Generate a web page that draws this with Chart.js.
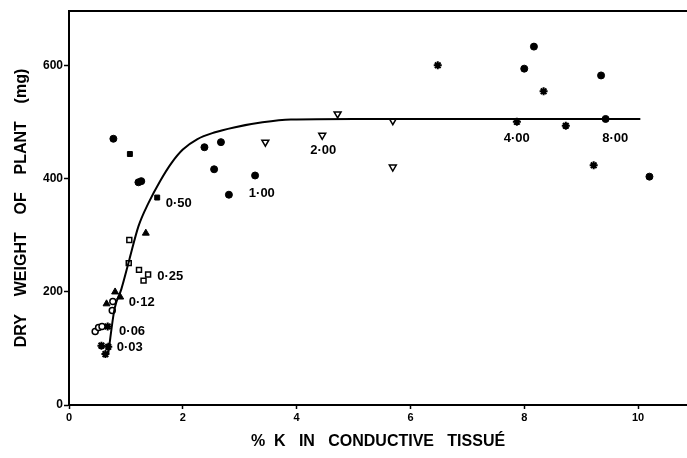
<!DOCTYPE html>
<html>
<head>
<meta charset="utf-8">
<script src="https://cdn.jsdelivr.net/npm/chart.js@4"></script>
<style>body{margin:0;background:#fff}</style>
</head>
<body>
<canvas id="chart" width="687" height="458"></canvas>
<script>
// values: [% K, dry weight mg]
const filledCircles = [[0.78,471],[1.22,394],[1.27,396],[2.38,456],[2.55,417],[2.67,465],[2.81,372],[3.27,406],[8.0,595],[8.17,634],[9.35,583],[9.43,506],[10.2,404]];
const filledSquares = [[1.07,444],[1.55,367]];
const filledTriangles = [[0.66,179],[0.81,200],[0.90,191],[1.35,304]];
const openSquares = [[1.05,251],[1.06,292],[1.23,239],[1.31,220],[1.39,231]];
const openCircles = [[0.46,130],[0.52,137],[0.58,139],[0.76,167],[0.77,183]];
const stars = [[0.57,105],[0.64,90],[0.68,139],[0.69,103],[6.48,601],[7.87,501],[8.34,555],[8.73,494],[9.22,424]];
const openInvTriangles = [[3.45,465],[4.45,477],[4.72,515],[5.69,421],[5.69,503]];
const curve = [[0.69,91],[0.80,170],[0.92,205],[1.06,257],[1.22,316],[1.40,358],[1.6,396],[1.8,428],[2.0,452],[2.25,470],[2.55,482],[2.9,491],[3.4,500],[3.9,505],[5,506],[7,506],[10.04,506]];

const doseLabels = ["0·03","0·06","0·12","0·25","0·50","1·00","2·00","4·00","8·00"];
const doseLabelX = [0.84,0.88,1.05,1.55,1.70,3.16,4.24,7.64,9.37];
const doseLabelY = [101,131,182,227,356,375,450,471,471];

const xTicks = [0, 2, 4, 6, 8, 10];
const yTicks = [0, 200, 400, 600];

const pts = arr => arr.map(p => ({x: p[0], y: p[1]}));

const labelsPlugin = {
  id: "labels",
  afterDraw(chart) {
    const ctx = chart.ctx;
    const xs = chart.scales.x, ys = chart.scales.y;
    const a = chart.chartArea;
    ctx.save();
    // top edge of the frame
    ctx.strokeStyle = "#000";
    ctx.lineWidth = 2;
    ctx.beginPath();
    ctx.moveTo(a.left - 1, a.top);
    ctx.lineTo(a.right, a.top);
    ctx.stroke();
    ctx.fillStyle = "#000";
    ctx.font = "bold 13px 'Liberation Sans', Arial, sans-serif";
    ctx.textAlign = "left";
    ctx.textBaseline = "middle";
    doseLabels.forEach((t, i) => {
      ctx.fillText(t, xs.getPixelForValue(doseLabelX[i]), ys.getPixelForValue(doseLabelY[i]));
    });
    ctx.restore();
  }
};

const black = "#000";
const fam = "'Liberation Sans', Arial, sans-serif";
const titleFont = {family: fam, size: 16, weight: "bold"};

new Chart(document.getElementById("chart"), {
  type: "scatter",
  data: {
    datasets: [
      {data: pts(curve), showLine: true, borderColor: black, borderWidth: 2, pointRadius: 0, tension: 0.4, cubicInterpolationMode: "monotone"},
      {data: pts(filledCircles), pointStyle: "circle", pointRadius: 3.5, backgroundColor: black, borderColor: black},
      {data: pts(filledSquares), pointStyle: "rect", pointRadius: 3.5, backgroundColor: black, borderColor: black},
      {data: pts(filledTriangles), pointStyle: "triangle", pointRadius: 4, backgroundColor: black, borderColor: black},
      {data: pts(openSquares), pointStyle: "rect", pointRadius: 3.5, backgroundColor: "#fff", borderColor: black, borderWidth: 1.5},
      {data: pts(openCircles), pointStyle: "circle", pointRadius: 3, backgroundColor: "#fff", borderColor: black, borderWidth: 1.5},
      {data: pts(stars), pointStyle: "star", pointRadius: 4, backgroundColor: black, borderColor: black, borderWidth: 2},
      {data: pts(openInvTriangles), pointStyle: "triangle", rotation: 180, pointRadius: 4, backgroundColor: "#fff", borderColor: black, borderWidth: 1.5}
    ]
  },
  options: {
    responsive: false,
    animation: false,
    layout: {autoPadding: false, padding: {top: 11, right: 0, left: 0, bottom: 0}},
    plugins: {legend: {display: false}, tooltip: {enabled: false}},
    scales: {
      x: {
        type: "linear", min: 0, max: 10.86,
        afterBuildTicks: s => { s.ticks = xTicks.map(v => ({value: v})); },
        afterFit: s => { s.height = 53; s.paddingLeft = 0; s.paddingRight = 0; },
        ticks: {font: {family: fam, size: 11, weight: "bold"}, color: black, padding: 2},
        grid: {drawOnChartArea: false, color: black, tickLength: 4, tickWidth: 1.5},
        border: {color: black, width: 2},
        title: {display: true, text: "%  K   IN   CONDUCTIVE   TISSUÉ", font: titleFont, color: black, padding: {top: 0, bottom: 7}}
      },
      y: {
        min: 0, max: 697,
        afterBuildTicks: s => { s.ticks = yTicks.map(v => ({value: v})); },
        afterFit: s => { s.width = 69; },
        ticks: {font: {family: fam, size: 12, weight: "bold"}, color: black, padding: 1},
        grid: {drawOnChartArea: false, color: black, tickLength: 5, tickWidth: 1.5},
        border: {color: black, width: 2},
        title: {display: true, text: "DRY    WEIGHT    OF    PLANT    (mg)", font: titleFont, color: black, padding: {top: 12, bottom: 0}}
      }
    }
  },
  plugins: [labelsPlugin]
});
</script>
</body>
</html>
